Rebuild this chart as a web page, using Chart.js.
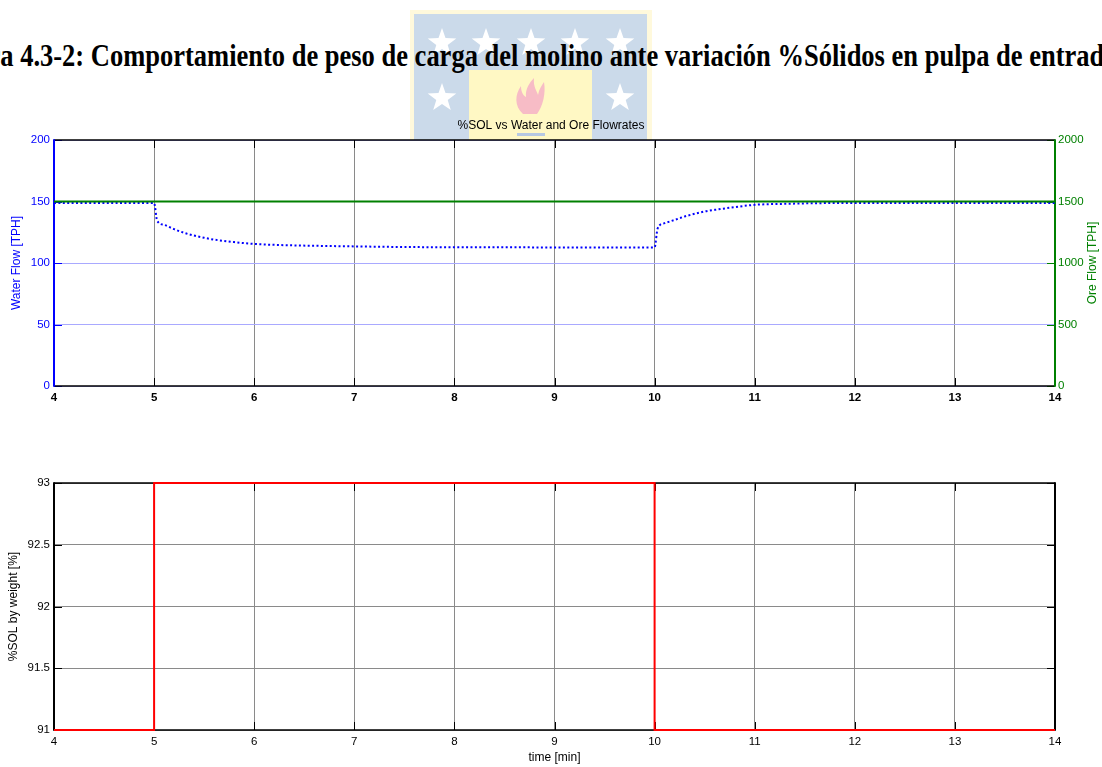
<!DOCTYPE html>
<html>
<head>
<meta charset="utf-8">
<script src="https://cdn.jsdelivr.net/npm/chart.js@4.4.0/dist/chart.umd.min.js"></script>
<style>
  html, body { margin: 0; padding: 0; background: #fff; }
  body { width: 1102px; height: 767px; position: relative; overflow: hidden; }
  #fig { position: absolute; top: 39px; left: 0; white-space: nowrap; font-family: "Liberation Serif", "Times New Roman", serif; font-weight: bold; font-size: 32px; line-height: 32px; color: #000; transform-origin: 0 0; z-index: 3; }
  #logo { position: absolute; left: 0; top: 0; z-index: 1; }
  canvas { position: absolute; left: 0; z-index: 2; }
  #c1 { top: 110px; }
  #c2 { top: 440px; }
</style>
</head>
<body>
<svg id="logo" width="1102" height="200" xmlns="http://www.w3.org/2000/svg">
  <rect x="410" y="10" width="242" height="190" fill="#fff9dc"/>
  <rect x="414" y="14" width="233" height="186" fill="#cbdaea"/>
  <rect x="469" y="70" width="123" height="130" fill="#fff8c4"/>
  <g fill="#ffffff" id="stars"></g>
  <path d="M523,114 C514,106 515,94 521,86 C521,93 524,96 526,97 C525,89 530,82 534,78 C533,87 537,91 538,95 C539,89 542,85 544,82 C546,93 543,106 537,114 Z" fill="#f7bcc6"/>
  <rect x="517" y="133" width="28" height="3" fill="#b7c9e2"/>
</svg>
<div id="fig">Figura 4.3-2: Comportamiento de peso de carga del molino ante variación %Sólidos en pulpa de entrada</div>
<canvas id="c1" width="1102" height="300"></canvas>
<canvas id="c2" width="1102" height="327"></canvas>
<script>
// ---------- data ----------
const timeTicks = [4, 5, 6, 7, 8, 9, 10, 11, 12, 13, 14];
const waterTime = [4, 5, 5.03, 5.1, 5.2, 5.3, 5.4, 5.5, 5.6, 5.8, 6, 6.3, 6.6, 7, 7.5, 8, 9, 10, 10.03, 10.1, 10.2, 10.3, 10.4, 10.5, 10.6, 10.8, 11, 11.3, 11.6, 12, 13, 14];
const waterFlow = [148.8, 148.8, 134.5, 131, 127.5, 124.5, 122.3, 120.5, 119, 117, 115.5, 114.5, 114, 113.5, 113, 112.8, 112.7, 112.7, 128, 132.4, 135, 137.8, 140, 141.9, 143.2, 145.4, 147.3, 148.1, 148.6, 148.8, 148.8, 148.8];
const oreTime = [4, 14];
const oreFlow = [1500, 1500];
const solTime = [4, 5, 5, 10, 10, 14];
const solPct = [91, 91, 93, 93, 91, 91];
const waterTicks = [0, 50, 100, 150, 200];
const oreTicks = [0, 500, 1000, 1500, 2000];
const solTicks = [91, 91.5, 92, 92.5, 93];

// ---------- title text (cropped figure caption) ----------
(function(){
  const el = document.getElementById('fig');
  const ctx = document.createElement('canvas').getContext('2d');
  ctx.font = 'bold 32px "Liberation Serif"';
  const full = el.textContent;
  const pre = ctx.measureText('Figur').width;
  const upto = ctx.measureText(full.slice(0, full.length - 1)).width;
  const s = 1104 / (upto - pre);
  el.style.transform = 'scaleX(' + s + ')';
  el.style.left = (-pre * s) + 'px';
})();

// ---------- logo stars ----------
(function(){
  const g = document.getElementById('stars');
  const centers = [[442,43],[486,43],[531,43],[575,43],[620,43],[442,98],[620,98]];
  centers.forEach(([cx, cy]) => {
    const pts = [];
    for (let i = 0; i < 10; i++) {
      const r = i % 2 === 0 ? 15 : 6;
      const a = -Math.PI / 2 + i * Math.PI / 5;
      pts.push((cx + r * Math.cos(a)).toFixed(1) + ',' + (cy + r * Math.sin(a)).toFixed(1));
    }
    const p = document.createElementNS('http://www.w3.org/2000/svg', 'polygon');
    p.setAttribute('points', pts.join(' '));
    g.appendChild(p);
  });
})();

const FONT = '"Liberation Sans", Arial, sans-serif';
Chart.defaults.font.family = FONT;
Chart.defaults.font.size = 11.5;
const TITLE_SIZE = 12;

function xy(xs, ys) { return xs.map((x, i) => ({x: x, y: ys[i]})); }
const plain = v => String(v);

const whiteArea = {
  id: 'whiteArea',
  beforeDraw(chart) {
    const a = chart.chartArea, c = chart.ctx;
    c.save(); c.fillStyle = '#fff'; c.fillRect(a.left, a.top, a.right - a.left, a.bottom - a.top); c.restore();
  }
};

// right-hand axis title reading bottom-to-top, as in the reference
const rightTitle = {
  id: 'rightTitle',
  afterDraw(chart, args, opts) {
    if (!opts.text) return;
    const a = chart.chartArea, c = chart.ctx;
    c.save();
    c.translate(opts.x, (a.top + a.bottom) / 2);
    c.rotate(-Math.PI / 2);
    c.fillStyle = opts.color;
    c.font = TITLE_SIZE + 'px ' + FONT;
    c.textAlign = 'center'; c.textBaseline = 'middle';
    c.fillText(opts.text, 0, 0);
    c.restore();
  }
};

function framePlugin(cfg) {
  return {
    id: 'frame',
    beforeDatasetsDraw(chart) {
      const a = chart.chartArea, c = chart.ctx;
      const xs = chart.scales.x;
      c.save();
      c.lineWidth = 1;
      c.strokeStyle = '#000';
      const L = 8;
      xs.ticks.forEach(t => {
        const px = Math.round(xs.getPixelForValue(t.value)) + 0.5;
        c.beginPath(); c.moveTo(px, a.top); c.lineTo(px, a.top + L); c.stroke();
        c.beginPath(); c.moveTo(px, a.bottom); c.lineTo(px, a.bottom - L); c.stroke();
      });
      const yl = chart.scales[cfg.leftId];
      c.strokeStyle = cfg.leftColor;
      yl.ticks.forEach(t => {
        const py = Math.round(yl.getPixelForValue(t.value)) + 0.5;
        c.beginPath(); c.moveTo(a.left, py); c.lineTo(a.left + L, py); c.stroke();
      });
      const yr = chart.scales[cfg.rightId] || yl;
      c.strokeStyle = cfg.rightColor;
      yr.ticks.forEach(t => {
        const py = Math.round(yr.getPixelForValue(t.value)) + 0.5;
        c.beginPath(); c.moveTo(a.right, py); c.lineTo(a.right - L, py); c.stroke();
      });
      // borders
      c.lineWidth = 1.5; c.strokeStyle = '#000';
      c.beginPath(); c.moveTo(a.left, a.top); c.lineTo(a.right, a.top); c.stroke();
      c.beginPath(); c.moveTo(a.left, a.bottom); c.lineTo(a.right, a.bottom); c.stroke();
      c.lineWidth = 2;
      c.strokeStyle = cfg.leftColor;
      c.beginPath(); c.moveTo(a.left, a.top - 0.75); c.lineTo(a.left, a.bottom + 0.75); c.stroke();
      c.strokeStyle = cfg.rightColor;
      c.beginPath(); c.moveTo(a.right, a.top - 0.75); c.lineTo(a.right, a.bottom + 0.75); c.stroke();
      c.restore();
    }
  };
}

const BLUE = '#0000ff', GREEN = '#008000', RED = '#ff0000';

// ---------- top chart ----------
new Chart(document.getElementById('c1'), {
  type: 'line',
  data: {
    datasets: [
      { label: 'Ore Flow', data: xy(oreTime, oreFlow), yAxisID: 'y2', borderColor: GREEN, borderWidth: 2, pointRadius: 0, tension: 0, clip: false },
      { label: 'Water Flow', data: xy(waterTime, waterFlow), yAxisID: 'y', borderColor: BLUE, borderWidth: 2, borderDash: [2, 2.4], pointRadius: 0, tension: 0.25, cubicInterpolationMode: 'monotone', clip: false }
    ]
  },
  options: {
    responsive: false, animation: false, devicePixelRatio: 1,
    layout: { padding: { left: 0, right: 0, top: 0, bottom: 0 } },
    plugins: {
      legend: { display: false }, tooltip: { enabled: false },
      title: { display: true, text: '%SOL vs Water and Ore Flowrates', color: '#000', font: { size: TITLE_SIZE, weight: 'normal' }, padding: { top: 8, bottom: 7.6 } },
      rightTitle: { text: 'Ore Flow [TPH]', color: GREEN, x: 1093 }
    },
    scales: {
      x: {
        type: 'linear', min: 4, max: 14,
        afterBuildTicks: s => { s.ticks = timeTicks.map(v => ({ value: v })); },
        ticks: { color: '#000', font: { weight: 'bold' }, padding: 5, maxRotation: 0, autoSkip: false, callback: plain },
        grid: { color: '#8a8a8a', lineWidth: 1, drawTicks: false },
        border: { display: false },
        afterFit: s => { s.height = 24; }
      },
      y: {
        position: 'left', min: 0, max: 200,
        afterBuildTicks: s => { s.ticks = waterTicks.map(v => ({ value: v })); },
        ticks: { color: BLUE, padding: 4, callback: plain },
        grid: { color: '#a9a9ff', lineWidth: 1, drawTicks: false },
        border: { display: false },
        title: { display: true, text: 'Water Flow [TPH]', color: BLUE, font: { size: TITLE_SIZE }, padding: { top: 9, bottom: 0 } },
        afterFit: s => { s.width = 54; }
      },
      y2: {
        position: 'right', min: 0, max: 2000,
        afterBuildTicks: s => { s.ticks = oreTicks.map(v => ({ value: v })); },
        ticks: { color: GREEN, padding: 3, callback: plain },
        grid: { display: false, drawTicks: false },
        border: { display: false },
        afterFit: s => { s.width = 47; }
      }
    }
  },
  plugins: [whiteArea, rightTitle, framePlugin({ leftId: 'y', rightId: 'y2', leftColor: BLUE, rightColor: GREEN })]
});

// ---------- bottom chart ----------
new Chart(document.getElementById('c2'), {
  type: 'line',
  data: {
    datasets: [
      { label: '%SOL', data: xy(solTime, solPct), borderColor: RED, borderWidth: 2, pointRadius: 0, tension: 0, clip: false }
    ]
  },
  options: {
    responsive: false, animation: false, devicePixelRatio: 1,
    layout: { padding: { left: 0, right: 47, top: 43, bottom: 0 } },
    plugins: { legend: { display: false }, tooltip: { enabled: false }, title: { display: false } },
    scales: {
      x: {
        type: 'linear', min: 4, max: 14,
        afterBuildTicks: s => { s.ticks = timeTicks.map(v => ({ value: v })); },
        ticks: { color: '#000', padding: 5, maxRotation: 0, autoSkip: false, callback: plain },
        grid: { color: '#8a8a8a', lineWidth: 1, drawTicks: false },
        border: { display: false },
        title: { display: true, text: 'time [min]', color: '#000', font: { size: TITLE_SIZE }, padding: { top: 0, bottom: 2 } },
        afterFit: s => { s.height = 37; }
      },
      y: {
        position: 'left', min: 91, max: 93,
        afterBuildTicks: s => { s.ticks = solTicks.map(v => ({ value: v })); },
        ticks: { color: '#000', padding: 4, callback: plain },
        grid: { color: '#8a8a8a', lineWidth: 1, drawTicks: false },
        border: { display: false },
        title: { display: true, text: '%SOL by weight [%]', color: '#000', font: { size: TITLE_SIZE }, padding: { top: 6, bottom: 0 } },
        afterFit: s => { s.width = 54; }
      }
    }
  },
  plugins: [whiteArea, framePlugin({ leftId: 'y', rightId: 'y', leftColor: '#000', rightColor: '#000' })]
});
</script>
</body>
</html>
